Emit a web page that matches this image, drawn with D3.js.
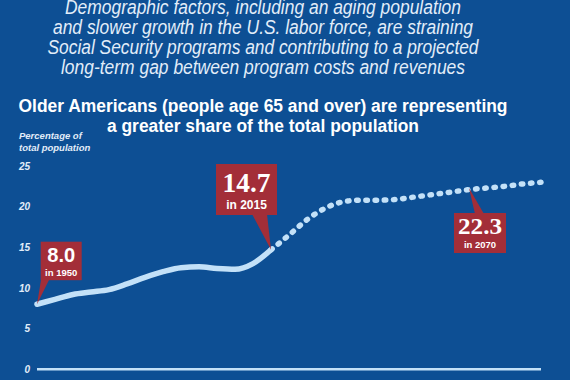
<!DOCTYPE html>
<html><head><meta charset="utf-8">
<script src="https://cdn.jsdelivr.net/npm/d3@7"></script>
<style>
html,body{margin:0;padding:0;background:#0d4f94;}
svg{display:block;}
</style></head>
<body>
<svg id="chart" width="570" height="380"></svg>
<script>
// ---- data ----
const histYears = [1950,1955,1960,1965,1970,1975,1980,1985,1990,1995,2000,2005,2010,2015];
const histShare = [8.0,8.6,9.2,9.5,9.8,10.5,11.3,12.0,12.5,12.6,12.4,12.3,13.0,14.7];
const projYears = [2015,2020,2025,2030,2035,2040,2045,2050,2055,2060,2065,2070,2075,2080,2085,2090];
const projShare = [14.7,16.5,18.4,19.8,20.6,20.8,20.8,20.9,21.2,21.5,21.8,22.1,22.3,22.5,22.8,23.0];
const yTicks = [0,5,10,15,20,25];
const titleLines = [
  "Demographic factors, including an aging population",
  "and slower growth in the U.S. labor force, are straining",
  "Social Security programs and contributing to a projected",
  "long-term gap between program costs and revenues"
];
const subtitleLines = [
  "Older Americans (people age 65 and over) are representing",
  "a greater share of the total population"
];
const axisLabel = ["Percentage of","total population"];
const callouts = [
  {year:1950, value:8.0,  label:"8.0",  sub:"in 1950"},
  {year:2015, value:14.7, label:"14.7", sub:"in 2015"},
  {year:2070, value:22.3, label:"22.3", sub:"in 2070"}
];

// ---- setup ----
const svg = d3.select("#chart");
const BG = "#0d4f94", LINE = "#c3e1f8", RED = "#a32e38", TXT = "#e2edf9";
svg.append("rect").attr("width",570).attr("height",380).attr("fill",BG);

const x = d3.scaleLinear().domain([1950,2090]).range([37,541]);
const y = d3.scaleLinear().domain([0,25]).range([369.3,166]);

// title
const titleW = [396,420,431,404];
svg.append("g").selectAll("text").data(titleLines).join("text")
  .attr("x",263).attr("y",(d,i)=>13.5+i*20.3)
  .attr("text-anchor","middle")
  .attr("font-family","'Liberation Sans', Arial, sans-serif")
  .attr("font-style","italic").attr("font-size",20)
  .attr("fill",TXT)
  .attr("textLength",(d,i)=>titleW[i]).attr("lengthAdjust","spacingAndGlyphs")
  .text(d=>d);

const subW = [489,312];
svg.append("g").selectAll("text").data(subtitleLines).join("text")
  .attr("x",263).attr("y",(d,i)=>112+i*19.5)
  .attr("text-anchor","middle")
  .attr("font-family","'Liberation Sans', Arial, sans-serif")
  .attr("font-weight","bold").attr("font-size",17.5)
  .attr("fill","#ffffff")
  .attr("textLength",(d,i)=>subW[i]).attr("lengthAdjust","spacingAndGlyphs")
  .text(d=>d);

// axis label
svg.append("g").selectAll("text").data(axisLabel).join("text")
  .attr("x",19).attr("y",(d,i)=>139+i*12)
  .attr("font-family","'Liberation Sans', Arial, sans-serif")
  .attr("font-weight","bold").attr("font-style","italic").attr("font-size",9.5)
  .attr("fill",TXT).text(d=>d);

// y axis (labels only)
const yAxis = d3.axisLeft(y).tickValues(yTicks).tickSize(0).tickPadding(0);
const ga = svg.append("g").attr("transform","translate(30,0)").call(yAxis);
ga.select(".domain").remove();
ga.selectAll("text")
  .attr("font-family","'Liberation Sans', Arial, sans-serif")
  .attr("font-weight","bold").attr("font-style","italic").attr("font-size",10)
  .attr("fill",TXT);

// baseline at 0
svg.append("line")
  .attr("x1",x(1950)).attr("x2",x(2090)).attr("y1",y(0)).attr("y2",y(0))
  .attr("stroke",LINE).attr("stroke-width",2.5);

// lines
const line = d3.line().x(d=>x(d[0])).y(d=>y(d[1])).curve(d3.curveMonotoneX);
const hist = histYears.map((yr,i)=>[yr,histShare[i]]);
const proj = projYears.map((yr,i)=>[yr,projShare[i]]);
svg.append("path").attr("d",line(proj)).attr("fill","none")
  .attr("stroke",LINE).attr("stroke-width",5.5).attr("stroke-linecap","round")
  .attr("stroke-dasharray","1.5,7.7");
svg.append("path").attr("d",line(hist)).attr("fill","none")
  .attr("stroke",LINE).attr("stroke-width",5.5).attr("stroke-linecap","round")
  .attr("stroke-linejoin","round");

// callouts
function callout(c, box, tri, numFont, numSize, numW, numBase, subSize, subBase){
  const g = svg.append("g");
  const px = x(c.year), py = y(c.value);
  g.append("path").attr("d",`M${tri[0]},${tri[1]}L${tri[2]},${tri[3]}L${px},${py}Z`).attr("fill",RED);
  g.append("rect").attr("x",box[0]).attr("y",box[1]).attr("width",box[2]).attr("height",box[3]).attr("fill",RED);
  const cx = box[0]+box[2]/2;
  g.append("text").attr("x",cx).attr("y",numBase).attr("text-anchor","middle")
    .attr("font-family",numFont).attr("font-weight","bold").attr("font-size",numSize)
    .attr("fill","#ffffff").attr("textLength",numW).attr("lengthAdjust","spacingAndGlyphs")
    .text(c.label);
  g.append("text").attr("x",cx).attr("y",subBase).attr("text-anchor","middle")
    .attr("font-family","'Liberation Sans', Arial, sans-serif").attr("font-weight","bold").attr("font-size",subSize)
    .attr("fill","#ffffff").text(c.sub);
}
const SANS = "'Liberation Sans', Arial, sans-serif";
const SERIF = "'Liberation Serif', 'DejaVu Serif', serif";
callout(callouts[0],[40.7,241.7,41,38.5],[41,280,49,280],SANS,21,28,262,9.5,276);
callout(callouts[1],[216,164,61,51],[252,214,267,214],SERIF,28,48,191.5,12,208.5);
callout(callouts[2],[454,213,52,40],[475,214,484,214],SERIF,24,44,234,9.5,248);
</script>
</body></html>
